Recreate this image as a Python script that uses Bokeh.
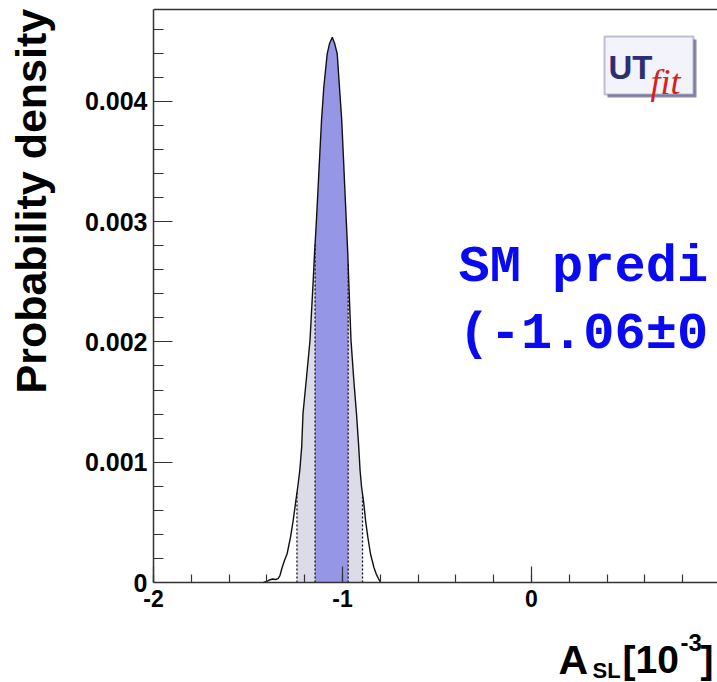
import numpy as np
from bokeh.plotting import figure
from bokeh.models import Range1d, FixedTicker, Label, BoxAnnotation, LinearAxis
from bokeh.embed import file_html
from bokeh.resources import INLINE

# ---------------- data ----------------
A_SL = [-1.418, -1.402, -1.386, -1.370, -1.354, -1.341, -1.331, -1.319, -1.307,
        -1.293, -1.275, -1.261, -1.249, -1.237, -1.226, -1.216, -1.209, -1.192,
        -1.172, -1.155, -1.148, -1.138, -1.129, -1.120, -1.111, -1.099, -1.081,
        -1.069, -1.054, -1.041, -1.028, -1.016, -1.004, -0.996, -0.988, -0.980,
        -0.972, -0.967, -0.955, -0.940, -0.926, -0.914, -0.907, -0.899, -0.887,
        -0.878, -0.866, -0.852, -0.834, -0.822, -0.810, -0.799]
DENSITY = [0.0, 0.000008, 0.000021, 0.000029, 0.000025, 0.000033, 0.000058, 0.000127,
           0.000183, 0.000239, 0.000377, 0.000515, 0.000654, 0.000792, 0.000931,
           0.001125, 0.001405, 0.001679, 0.002012, 0.002510, 0.002735, 0.003009,
           0.003286, 0.003566, 0.003840, 0.004117, 0.004395, 0.004478, 0.004533,
           0.004478, 0.004395, 0.004117, 0.003840, 0.003566, 0.003286, 0.003009,
           0.002735, 0.002510, 0.002012, 0.001679, 0.001405, 0.001125, 0.000931,
           0.000792, 0.000654, 0.000515, 0.000377, 0.000239, 0.000127, 0.000072,
           0.000033, 0.000004]
INTERVAL_68 = [-1.145, -0.970]
INTERVAL_95 = [-1.241, -0.894]

X_TICKS = [-2.0, -1.0, 0.0]
X_TICK_LABELS = ["-2", "-1", "0"]
Y_TICKS = [0.0, 0.001, 0.002, 0.003, 0.004]
Y_TICK_LABELS = ["0", "0.001", "0.002", "0.003", "0.004"]

TEXT_LINE1 = "SM predi"
TEXT_LINE2 = "(-1.06\u00b10"

# ---------------- layout helpers (canvas pixels -> data) ----------------
W, H = 717, 682

def xd(px):
    return -2.0 + (px - 153.0) / 189.0

def yd(py):
    return (582.0 - py) / 120300.0

FONT = "Liberation Sans"
AXIS_COL = "#333333"
X_END = xd(W)
Y_TOP = yd(9)

p = figure(width=W, height=H,
           x_range=Range1d(xd(0), X_END), y_range=Range1d(yd(H), yd(0)),
           output_backend="svg", toolbar_location=None,
           min_border_left=0, min_border_right=0, min_border_top=0,
           min_border_bottom=0)
p.grid.visible = False
p.outline_line_color = None
p.background_fill_color = "white"
p.border_fill_color = "white"

# ---------------- bands ----------------
xs = np.array(A_SL)
ys = np.array(DENSITY)

def band(lo, hi):
    inner = xs[(xs > lo) & (xs < hi)]
    bx = np.concatenate([[lo], inner, [hi]])
    by = np.interp(bx, xs, ys)
    return bx, by

bx95, by95 = band(*INTERVAL_95)
p.varea(x=bx95, y1=0, y2=by95, fill_color="#dcdce9")
bx68, by68 = band(*INTERVAL_68)
p.varea(x=bx68, y1=0, y2=by68, fill_color="#9696e6")

bounds = INTERVAL_95 + INTERVAL_68
p.segment(x0=bounds, y0=[0] * 4, x1=bounds, y1=list(np.interp(bounds, xs, ys)),
          line_color="#111111", line_width=1.3, line_dash="2 2")

p.line(xs, ys, line_color="#111111", line_width=1.4)

# ---------------- axes (drawn at fixed positions inside the canvas) ----------------
xminor = [round(v, 3) for v in np.arange(-2.0, 1.0, 0.2)]
yminor = [round(v, 5) for v in np.arange(0.0, 0.0048, 0.0002)]
xaxis = p.xaxis[0]
yaxis = p.yaxis[0]
xaxis.ticker = FixedTicker(ticks=X_TICKS, minor_ticks=xminor)
yaxis.ticker = FixedTicker(ticks=Y_TICKS, minor_ticks=yminor)
xaxis.major_label_overrides = dict(zip(X_TICKS, X_TICK_LABELS))
yaxis.major_label_overrides = dict(zip(Y_TICKS, Y_TICK_LABELS))
xaxis.fixed_location = 0.0
yaxis.fixed_location = -2.0
xaxis.bounds = (-2.0, X_END)
yaxis.bounds = (0.0, Y_TOP)

top = LinearAxis(fixed_location=Y_TOP, bounds=(-2.0, X_END),
                 ticker=FixedTicker(ticks=[]), major_label_text_font_size="0px",
                 major_tick_in=0, major_tick_out=0, minor_tick_in=0, minor_tick_out=0)
p.add_layout(top, "above")

for ax in (xaxis, yaxis, top):
    ax.axis_line_color = AXIS_COL
    ax.axis_line_width = 1.5
    ax.major_tick_line_color = AXIS_COL
    ax.minor_tick_line_color = AXIS_COL
    ax.major_tick_line_width = 1.2
    ax.minor_tick_line_width = 1.2
    ax.major_tick_out = 0
    ax.minor_tick_out = 0
    ax.major_label_text_font = FONT
    ax.major_label_text_font_style = "bold"
    ax.major_label_text_color = "black"

xaxis.major_tick_in = 16
xaxis.minor_tick_in = 8
xaxis.major_label_text_font_size = "23px"
xaxis.major_label_standoff = 7
yaxis.major_tick_in = 19
yaxis.minor_tick_in = 10
yaxis.major_label_text_font_size = "25px"
yaxis.major_label_standoff = 6
top.major_tick_in = 0
top.minor_tick_in = 0

# ---------------- axis titles ----------------
p.add_layout(Label(x=xd(30), y=yd(393), text="Probability density", angle=np.pi / 2,
                   text_font=FONT, text_font_style="bold", text_font_size="43px",
                   text_align="left", text_baseline="alphabetic", text_color="black"))

def tlabel(px, py, txt, size):
    p.add_layout(Label(x=xd(px), y=yd(py), text=txt, text_font=FONT,
                       text_font_style="bold", text_font_size=size,
                       text_align="left", text_baseline="alphabetic",
                       text_color="black"))

tlabel(558, 659, "A", "41px")
tlabel(592, 670, "SL", "22px")
tlabel(622, 659, "[10", "39px")
tlabel(680, 642, "-3", "24px")
tlabel(700, 659, "]", "39px")

# ---------------- annotation text ----------------
for py, txt in ((267, TEXT_LINE1), (334, TEXT_LINE2)):
    p.add_layout(Label(x=xd(458), y=yd(py), text=txt, text_font="Liberation Mono",
                       text_font_style="bold", text_font_size="52px",
                       text_align="left", text_baseline="alphabetic",
                       text_color="#0a0af2"))

# ---------------- UTfit logo ----------------
p.add_layout(BoxAnnotation(left=xd(607), right=xd(696), top=yd(39), bottom=yd(97),
                           fill_color="#8a8aa6", fill_alpha=1, line_color=None))
p.add_layout(BoxAnnotation(left=xd(604), right=xd(693), top=yd(36), bottom=yd(94),
                           fill_color="#f3f3fb", fill_alpha=1, line_color="#34347a",
                           line_width=2))
p.add_layout(Label(x=xd(608), y=yd(67), text="UT", text_font=FONT,
                   text_font_style="bold", text_font_size="33px",
                   text_align="left", text_baseline="alphabetic", text_color="#2e2e74"))
p.add_layout(Label(x=xd(650), y=yd(81), text="fit", text_font="Liberation Serif",
                   text_font_style="italic", text_font_size="36px",
                   text_align="left", text_baseline="alphabetic", text_color="#d42020"))

open("out.html", "w").write(file_html(p, INLINE))
